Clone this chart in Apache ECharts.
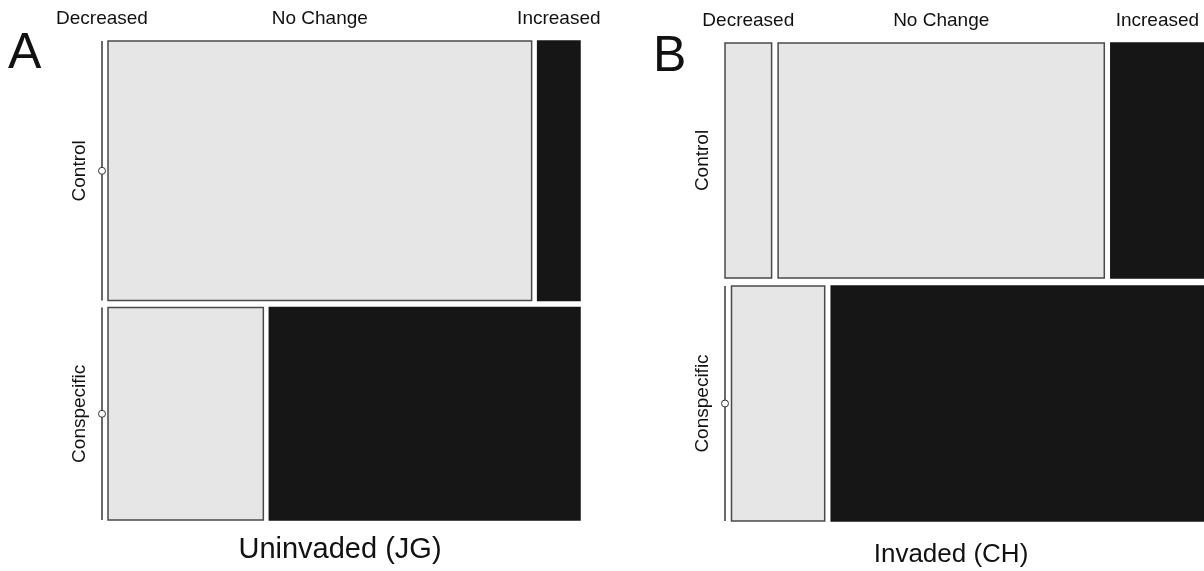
<!DOCTYPE html>
<html>
<head>
<meta charset="utf-8">
<script src="https://cdn.jsdelivr.net/npm/echarts@6/dist/echarts.min.js"></script>
<style>
html,body{margin:0;padding:0;background:#fff;}
#chart{width:1204px;height:571px;}
</style>
</head>
<body>
<div id="chart"></div>
<script>
// ---- DATA ----
const columnCategories = ['Decreased', 'No Change', 'Increased'];
const rowCategories = ['Control', 'Conspecific'];
const countsA_Control = [0, 40, 4];
const countsA_Conspecific = [0, 12, 24];
const countsB_Control = [4, 28, 8];
const countsB_Conspecific = [0, 8, 32];
const panelLetters = ['A', 'B'];
const panelTitles = ['Uninvaded (JG)', 'Invaded (CH)'];

// ---- LAYOUT ----
const FONT = '"Liberation Sans", Arial, sans-serif';
const panels = [
  { rows: [countsA_Control, countsA_Conspecific], gx: 6 / 466, gy: 7 / 472,
    grid: { left: 102, top: 41, width: 478, height: 479 } },
  { rows: [countsB_Control, countsB_Conspecific], gx: 6.5 / 466, gy: 8 / 470,
    grid: { left: 725, top: 43, width: 479, height: 478 } }
];

function buildCells(panel) {
  const rowTotals = panel.rows.map(r => r.reduce((a, b) => a + b, 0));
  const N = rowTotals.reduce((a, b) => a + b, 0);
  const ymax = 1 + panel.gy * (panel.rows.length - 1);
  const cells = [];
  let ycur = ymax;
  panel.rows.forEach((r, ri) => {
    const h = rowTotals[ri] / N;
    const yTop = ycur, yBot = ycur - h;
    let xcur = 0;
    r.forEach((c, ci) => {
      const w = c / rowTotals[ri];
      cells.push([xcur, xcur + w, yBot, yTop, ci, ri]);
      xcur += w + panel.gx;
    });
    ycur = yBot - panel.gy;
  });
  return { cells, xmax: 1 + panel.gx * (panel.rows[0].length - 1), ymax };
}

function renderCell(params, api) {
  const x0 = api.value(0), x1 = api.value(1), y0 = api.value(2), y1 = api.value(3);
  const col = api.value(4);
  const p0 = api.coord([x0, y1]);
  const p1 = api.coord([x1, y0]);
  if (x1 - x0 < 1e-9) {
    const x = p0[0];
    return { type: 'group', children: [
      { type: 'line', shape: { x1: x, y1: p0[1], x2: x, y2: p1[1] }, style: { stroke: '#444', lineWidth: 1.6 } },
      { type: 'circle', shape: { cx: x, cy: (p0[1] + p1[1]) / 2, r: 3.5 }, style: { fill: '#fff', stroke: '#333', lineWidth: 1 } }
    ]};
  }
  const black = col === 2;
  return {
    type: 'rect',
    shape: { x: p0[0], y: p0[1], width: p1[0] - p0[0], height: p1[1] - p0[1] },
    style: { fill: black ? '#161616' : '#e6e6e6', stroke: black ? '#161616' : '#4a4a4a', lineWidth: 1.5 }
  };
}

function renderColLabel(params, api) {
  const p = api.coord([api.value(0), api.value(1)]);
  return { type: 'text', x: p[0], y: p[1] - 22,
    style: { text: columnCategories[api.value(2)], align: 'center', verticalAlign: 'middle',
      fill: '#111', font: '19px ' + FONT } };
}

function renderRowLabel(params, api) {
  const p = api.coord([api.value(0), api.value(1)]);
  return { type: 'text', x: p[0] - 22, y: p[1], rotation: Math.PI / 2,
    style: { text: rowCategories[api.value(2)], align: 'center', verticalAlign: 'middle',
      fill: '#111', font: '19px ' + FONT } };
}

const grids = [], xAxes = [], yAxes = [], series = [];
panels.forEach((panel, pi) => {
  const b = buildCells(panel);
  grids.push(panel.grid);
  xAxes.push({ type: 'value', gridIndex: pi, min: 0, max: b.xmax, show: false });
  yAxes.push({ type: 'value', gridIndex: pi, min: 0, max: b.ymax, show: false });
  series.push({ type: 'custom', xAxisIndex: pi, yAxisIndex: pi, renderItem: renderCell,
    encode: { x: [0, 1], y: [2, 3] }, data: b.cells, silent: true, clip: false });
  const topRow = b.cells.filter(c => c[5] === 0).map(c => [(c[0] + c[1]) / 2, c[3], c[4]]);
  series.push({ type: 'custom', xAxisIndex: pi, yAxisIndex: pi, renderItem: renderColLabel,
    encode: { x: 0, y: 1 }, data: topRow, silent: true, clip: false });
  const rowLab = rowCategories.map((r, ri) => {
    const cs = b.cells.filter(c => c[5] === ri);
    return [0, (cs[0][2] + cs[0][3]) / 2, ri];
  });
  series.push({ type: 'custom', xAxisIndex: pi, yAxisIndex: pi, renderItem: renderRowLabel,
    encode: { x: 0, y: 1 }, data: rowLab, silent: true, clip: false });
});

const chart = echarts.init(document.getElementById('chart'), null, { renderer: 'canvas' });
chart.setOption({
  animation: false,
  backgroundColor: '#fff',
  grid: grids,
  xAxis: xAxes,
  yAxis: yAxes,
  series: series,
  graphic: [
    { type: 'text', left: 8, top: 29, style: { text: panelLetters[0], font: '50px ' + FONT, fill: '#111' } },
    { type: 'text', left: 653, top: 32, style: { text: panelLetters[1], font: '50px ' + FONT, fill: '#111' } },
    { type: 'text', x: 340, y: 550, style: { text: panelTitles[0], align: 'center', verticalAlign: 'middle', font: '29px ' + FONT, fill: '#111' } },
    { type: 'text', x: 951, y: 555, style: { text: panelTitles[1], align: 'center', verticalAlign: 'middle', font: '26px ' + FONT, fill: '#111' } }
  ]
});
</script>
</body>
</html>
